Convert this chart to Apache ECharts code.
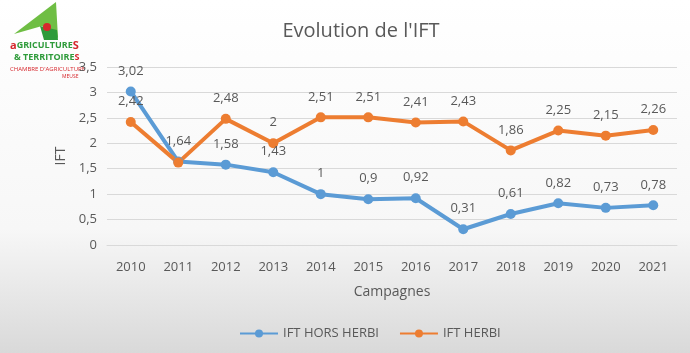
<!DOCTYPE html>
<html>
<head>
<meta charset="utf-8">
<script src="https://cdn.jsdelivr.net/npm/echarts@6/dist/echarts.min.js"></script>
<style>
  html, body { margin: 0; padding: 0; }
  #chart { width: 690px; height: 353px; }
</style>
</head>
<body>
<div id="chart"></div>
<script>
    // données
    var campagnes = ['2010','2011','2012','2013','2014','2015','2016','2017','2018','2019','2020','2021'];
    var iftHorsHerbi = [3.02, 1.64, 1.58, 1.43, 1, 0.9, 0.92, 0.31, 0.61, 0.82, 0.73, 0.78];
    var iftHerbi = [2.42, 1.62, 2.48, 2, 2.51, 2.51, 2.41, 2.43, 1.86, 2.25, 2.15, 2.26];
    var hiddenHerbiLabels = [1]; // 2011 : étiquette masquée (superposée)

    var txt = '#595959';
    var font = '"Open Sans", "Noto Sans", sans-serif';

    function virgule(v){ return String(v).replace('.', ','); }

    var myChart = echarts.init(document.getElementById('chart'));
    var option = {
        backgroundColor: {
            type: 'linear', x: 0, y: 0, x2: 0, y2: 1,
            colorStops: [
                {offset: 0, color: '#ffffff'},
                {offset: 0.65, color: '#f7f7f7'},
                {offset: 1, color: '#d9d9d9'}
            ]
        },
        textStyle: { fontFamily: font },
        title: {
            text: "Evolution de l'IFT",
            left: 356, top: 16, textAlign: 'center',
            textStyle: { color: txt, fontSize: 20, fontWeight: 'normal', fontFamily: font }
        },
        legend: {
            bottom: 8, left: 234,
            itemWidth: 38, itemHeight: 10, itemGap: 20,
            textStyle: { color: txt, fontSize: 13, fontFamily: font },
            data: ['IFT HORS HERBI', 'IFT HERBI']
        },
        grid: { left: 107, right: 13, top: 67, bottom: 108 },
        xAxis: {
            type: 'category',
            data: campagnes,
            name: 'Campagnes',
            nameLocation: 'middle',
            nameGap: 40,
            nameTextStyle: { color: txt, fontSize: 14, fontFamily: font },
            axisLine: { show: true, lineStyle: { color: '#d9d9d9' } },
            axisTick: { show: false },
            axisLabel: { color: txt, fontSize: 13, margin: 16, fontFamily: font }
        },
        yAxis: {
            type: 'value',
            min: 0, max: 3.5, interval: 0.5,
            name: 'IFT',
            nameLocation: 'middle',
            nameGap: 38,
            nameRotate: 90,
            nameTextStyle: { color: txt, fontSize: 14, fontFamily: font },
            axisLine: { show: false },
            axisTick: { show: false },
            splitLine: { lineStyle: { color: '#d9d9d9', width: 1 } },
            axisLabel: { color: txt, fontSize: 13, margin: 10, fontFamily: font, formatter: virgule }
        },
        series: [
            {
                name: 'IFT HORS HERBI',
                type: 'line',
                data: iftHorsHerbi,
                color: '#5b9bd5',
                symbol: 'circle', symbolSize: 10,
                lineStyle: { width: 4 },
                label: { show: true, position: 'top', distance: 9, color: txt, fontSize: 13, fontFamily: font, formatter: function(p){ return virgule(p.value); } }
            },
            {
                name: 'IFT HERBI',
                type: 'line',
                data: iftHerbi.map(function(v, i){
                    return hiddenHerbiLabels.indexOf(i) >= 0 ? {value: v, label: {show: false}} : v;
                }),
                color: '#ed7d31',
                symbol: 'circle', symbolSize: 10,
                lineStyle: { width: 4 },
                label: { show: true, position: 'top', distance: 9, color: txt, fontSize: 13, fontFamily: font, formatter: function(p){ return virgule(p.value); } }
            }
        ],
        graphic: [
            // logo Agricultures & Territoires (approximatif)
            { type: 'polygon', shape: { points: [[14,34],[56,2],[58,38],[42,26]] }, style: { fill: '#6fbe44' } },
            { type: 'polygon', shape: { points: [[40,26],[57,30],[58,40],[44,40]] }, style: { fill: '#2e9b3a' } },
            { type: 'circle', shape: { cx: 47, cy: 27, r: 4 }, style: { fill: '#d6262c' } },
            { type: 'text', left: 10, top: 40, style: { text: '{r|a}{g|GRICULTURE}{r|S}', rich: {
                r: { fill: '#d6262c', fontSize: 11, fontWeight: 'bold', fontFamily: font },
                g: { fill: '#2e9b3a', fontSize: 9, fontWeight: 'bold', fontFamily: font }
            } } },
            { type: 'text', left: 14, top: 53, style: { text: '{g|& TERRITOIRE}{r|S}', rich: {
                r: { fill: '#d6262c', fontSize: 9, fontWeight: 'bold', fontFamily: font },
                g: { fill: '#2e9b3a', fontSize: 9, fontWeight: 'bold', fontFamily: font }
            } } },
            { type: 'text', left: 10, top: 66, style: { text: "CHAMBRE D'AGRICULTURE", fill: '#d6262c', fontSize: 6, fontFamily: font } },
            { type: 'text', left: 62, top: 74, style: { text: 'MEUSE', fill: '#d6262c', fontSize: 5, fontFamily: font } }
        ]
    };
    myChart.setOption(option);
</script>
</body>
</html>
